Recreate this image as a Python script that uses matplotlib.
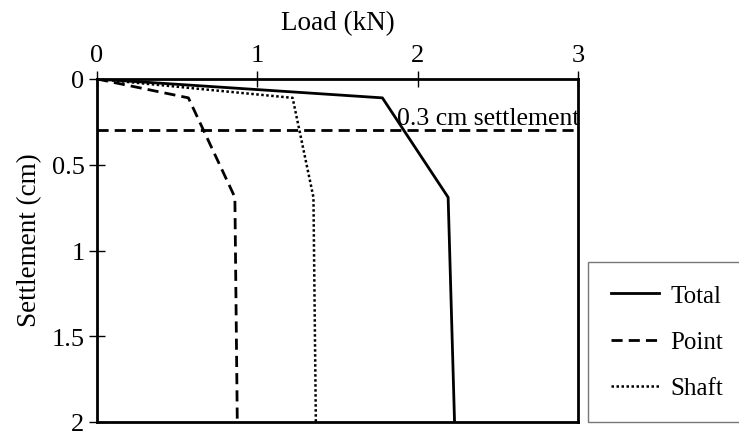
import matplotlib
matplotlib.use("Agg")
import matplotlib.pyplot as plt

plt.rcParams['font.family'] = ['Liberation Serif', 'DejaVu Serif']

total_load = [0.0, 1.78, 2.19, 2.23]
total_settle = [0.0, 0.11, 0.69, 2.0]
point_load = [0.0, 0.57, 0.86, 0.875]
point_settle = [0.0, 0.11, 0.69, 2.0]
shaft_load = [0.0, 1.22, 1.35, 1.365]
shaft_settle = [0.0, 0.11, 0.69, 2.0]
limit_settle = 0.3
xticks = [0, 1, 2, 3]
yticks = [0, 0.5, 1, 1.5, 2]
ytick_labels = ['0', '0.5', '1', '1.5', '2']

fig = plt.figure(figsize=(7.39, 4.35), dpi=100)
ax = fig.add_axes([97/739, 1-423/435, (578-97)/739, (423-80)/435])

l1, = ax.plot(total_load, total_settle, color='black', lw=2.0, ls='-', label='Total')
l2, = ax.plot(point_load, point_settle, color='black', lw=2.0, ls=(0, (4, 2.2)), label='Point')
l3, = ax.plot(shaft_load, shaft_settle, color='black', lw=1.8, ls=(0, (1, 1)), label='Shaft')
ax.axhline(limit_settle, color='black', lw=2.0, ls=(0, (4, 2.2)))
ax.text(1.87, limit_settle - 0.035, '0.3 cm settlement', fontsize=18.5, ha='left', va='baseline',
        clip_on=True)

ax.set_xlim(0, 3)
ax.set_ylim(2, 0)
ax.xaxis.tick_top()
ax.xaxis.set_label_position('top')
ax.set_xticks(xticks)
ax.set_xticklabels([str(t) for t in xticks])
ax.set_yticks(yticks)
ax.set_yticklabels(ytick_labels)
ax.tick_params(axis='both', direction='inout', length=12, width=1, labelsize=19, pad=3)
ax.set_xlabel('Load (kN)', fontsize=19.5, labelpad=11)
ax.set_ylabel('Settlement (cm)', fontsize=19.5)
ax.yaxis.set_label_coords(-0.115, 0.534)
for s in ax.spines.values():
    s.set_linewidth(2)

leg = fig.legend(handles=[l1, l2, l3], loc='upper left',
                 bbox_to_anchor=(588/739, 1-263/435), fontsize=18,
                 frameon=True, fancybox=False, edgecolor='#555555',
                 handlelength=1.95, handletextpad=0.45, labelspacing=0.95,
                 borderpad=0.9, borderaxespad=0)
leg.get_frame().set_linewidth(1.0)

fig.savefig('out.png', dpi=100)
